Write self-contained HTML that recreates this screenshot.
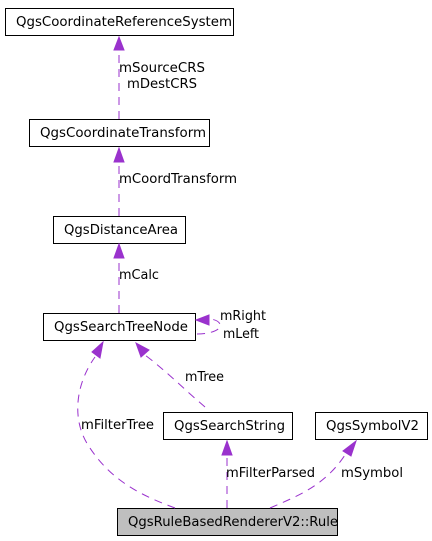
<!DOCTYPE html>
<html><head><meta charset="utf-8"><style>html,body{margin:0;padding:0;background:#fff}svg{display:block}text{font-family:"DejaVu Sans","Liberation Sans",sans-serif;font-size:13px;fill:#000}</style></head>
<body>
<svg width="432" height="541" viewBox="0 0 432 541" xmlns="http://www.w3.org/2000/svg">
<g fill="#fff" stroke="#000" stroke-width="1">
<rect x="5.5" y="8.5" width="228" height="27"/>
<rect x="29.5" y="119.5" width="180" height="27"/>
<rect x="53.5" y="216.5" width="132" height="27"/>
<rect x="43.5" y="313.5" width="152" height="27"/>
<rect x="163.5" y="412.5" width="129" height="27"/>
<rect x="315.5" y="412.5" width="112" height="27"/>
<rect x="117.5" y="508.5" width="220" height="27" fill="#bfbfbf"/>
</g>
<g>
<text x="16" y="26" textLength="216" lengthAdjust="spacingAndGlyphs">QgsCoordinateReferenceSystem</text>
<text x="40" y="137" textLength="166" lengthAdjust="spacingAndGlyphs">QgsCoordinateTransform</text>
<text x="64" y="234" textLength="114" lengthAdjust="spacingAndGlyphs">QgsDistanceArea</text>
<text x="54" y="331" textLength="134" lengthAdjust="spacingAndGlyphs">QgsSearchTreeNode</text>
<text x="174" y="430" textLength="111" lengthAdjust="spacingAndGlyphs">QgsSearchString</text>
<text x="326" y="430" textLength="93" lengthAdjust="spacingAndGlyphs">QgsSymbolV2</text>
<text x="128" y="526" textLength="210" lengthAdjust="spacingAndGlyphs">QgsRuleBasedRendererV2::Rule</text>
</g>
<g fill="none" stroke="#9a32cd" stroke-width="1" stroke-dasharray="8,6">
<path d="M119,119 L119,50"/>
<path d="M119,216 L119,162"/>
<path d="M119,313 L119,258"/>
<path d="M197,334 C210,334 222,330 220,324 C218,320 212,319 208,319"/>
<path d="M205,407 C185,390 165,370 145,355"/>
<path d="M227,508 L227,455"/>
<path d="M270,508 C300,495 325,485 345,455"/>
<path d="M175,508 C140,495 110,480 88,445 C72,420 75,385 95,357"/>
</g>
<g fill="#9a32cd" stroke="#9a32cd">
<polygon points="119,37 114,50 124,50"/>
<polygon points="119,148 114,162 124,162"/>
<polygon points="119,244 114,258 124,258"/>
<polygon points="196,320 209,315 209,325"/>
<polygon points="136,343 141,357 149,350"/>
<polygon points="227,441 222,455 232,455"/>
<polygon points="356,441 343,451 351,456"/>
<polygon points="103,342 92,352 100,358"/>
</g>
<g>
<text x="119" y="72" textLength="86" lengthAdjust="spacingAndGlyphs">mSourceCRS</text>
<text x="127" y="88" textLength="70" lengthAdjust="spacingAndGlyphs">mDestCRS</text>
<text x="119" y="183" textLength="118" lengthAdjust="spacingAndGlyphs">mCoordTransform</text>
<text x="119" y="279" textLength="40" lengthAdjust="spacingAndGlyphs">mCalc</text>
<text x="220" y="320" textLength="46" lengthAdjust="spacingAndGlyphs">mRight</text>
<text x="223" y="338" textLength="36" lengthAdjust="spacingAndGlyphs">mLeft</text>
<text x="185" y="381" textLength="39" lengthAdjust="spacingAndGlyphs">mTree</text>
<text x="81" y="429" textLength="73" lengthAdjust="spacingAndGlyphs">mFilterTree</text>
<text x="226" y="477" textLength="89" lengthAdjust="spacingAndGlyphs">mFilterParsed</text>
<text x="341" y="477" textLength="62" lengthAdjust="spacingAndGlyphs">mSymbol</text>
</g>
</svg>
</body></html>
